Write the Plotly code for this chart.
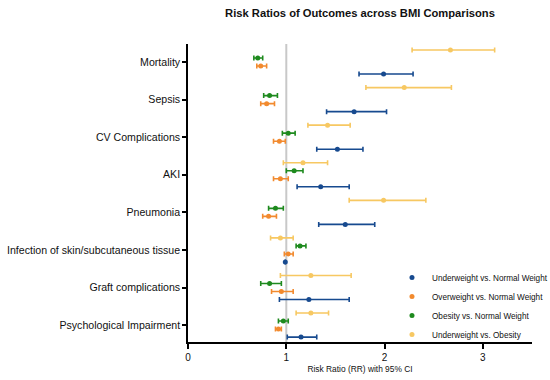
import plotly.graph_objects as go

categories = ["Mortality", "Sepsis", "CV Complications", "AKI", "Pneumonia",
              "Infection of skin/subcutaneous tissue", "Graft complications",
              "Psychological Impairment"]

series_names = ["Underweight vs. Normal Weight", "Overweight vs. Normal Weight",
                "Obesity vs. Normal Weight", "Underweight vs. Obesity"]

# RR, lower CI, upper CI per series (order follows categories)
under_normal_rr = [1.99, 1.69, 1.52, 1.35, 1.60, 0.99, 1.23, 1.15]
under_normal_lo = [1.74, 1.41, 1.31, 1.11, 1.33, None, 0.93, 1.01]
under_normal_hi = [2.29, 2.02, 1.78, 1.64, 1.90, None, 1.64, 1.31]

over_normal_rr = [0.74, 0.80, 0.93, 0.94, 0.82, 1.02, 0.95, 0.92]
over_normal_lo = [0.70, 0.74, 0.87, 0.87, 0.76, 0.98, 0.85, 0.89]
over_normal_hi = [0.80, 0.88, 0.99, 1.02, 0.90, 1.07, 1.07, 0.95]

obese_normal_rr = [0.71, 0.83, 1.02, 1.08, 0.89, 1.14, 0.83, 0.97]
obese_normal_lo = [0.67, 0.77, 0.96, 1.00, 0.82, 1.10, 0.74, 0.92]
obese_normal_hi = [0.76, 0.91, 1.09, 1.17, 0.97, 1.20, 0.95, 1.02]

under_obese_rr = [2.67, 2.20, 1.42, 1.17, 1.99, 0.94, 1.25, 1.25]
under_obese_lo = [2.28, 1.81, 1.22, 0.97, 1.64, 0.84, 0.94, 1.10]
under_obese_hi = [3.12, 2.68, 1.65, 1.42, 2.42, 1.07, 1.66, 1.43]

colors = ["#174A8F", "#F28A2E", "#1E8A1E", "#F7C862"]
offsets = [0.32, 0.107, -0.107, -0.32]

data = [
    (under_normal_rr, under_normal_lo, under_normal_hi),
    (over_normal_rr, over_normal_lo, over_normal_hi),
    (obese_normal_rr, obese_normal_lo, obese_normal_hi),
    (under_obese_rr, under_obese_lo, under_obese_hi),
]

fig = go.Figure()

# reference line at RR = 1
fig.add_shape(type="line", x0=1, x1=1, y0=0, y1=1, xref="x", yref="paper",
              line=dict(color="#C8C8C8", width=2), layer="below")

for name, col, off, (rr, lo, hi) in zip(series_names, colors, offsets, data):
    ys = [i + off for i in range(len(categories))]
    plus = [(h - r) if h is not None else 0 for r, h in zip(rr, hi)]
    minus = [(r - l) if l is not None else 0 for r, l in zip(rr, lo)]
    fig.add_trace(go.Scatter(
        x=rr, y=ys, mode="markers", name=name,
        marker=dict(color=col, size=5),
        error_x=dict(type="data", symmetric=False, array=plus, arrayminus=minus,
                     color=col, thickness=1.6, width=2.5),
        hovertext=[c for c in categories],
    ))

fig.update_layout(
    width=550, height=380,
    paper_bgcolor="white", plot_bgcolor="white",
    margin=dict(l=188, r=18, t=44, b=38, autoexpand=False),
    font=dict(family="Liberation Sans, Arial, sans-serif", color="#111111"),
    title=dict(text="<b>Risk Ratios of Outcomes across BMI Comparisons</b>",
               x=(188 + 532) / 2 / 550, xanchor="center", y=1 - 13 / 380, yanchor="middle",
               font=dict(size=11.2, color="#111111")),
    xaxis=dict(range=[0, 3.5], tickvals=[0, 1, 2, 3], ticktext=["0", "1", "2", "3"],
               showgrid=False, zeroline=False, showline=True, linecolor="black",
               linewidth=1.5, ticks="outside", ticklen=5, tickwidth=1.5,
               tickcolor="black", tickfont=dict(size=10), automargin=False,
               title=dict(text="Risk Ratio (RR) with 95% CI", font=dict(size=8.4), standoff=4)),
    yaxis=dict(range=[7.45, -0.48], tickvals=list(range(len(categories))),
               ticktext=categories, showgrid=False, zeroline=False, showline=True,
               linecolor="black", linewidth=1.5, ticks="outside", ticklen=4,
               tickwidth=1.5, tickcolor="black", tickfont=dict(size=10.6), automargin=False),
    legend=dict(x=0.593, y=0.265, xanchor="left", yanchor="top",
                font=dict(size=8.2), bgcolor="rgba(0,0,0,0)", itemwidth=30),
    showlegend=True,
)

fig.write_html("out.html", config={"displayModeBar": False},
               post_script="document.body.style.margin='0';")
